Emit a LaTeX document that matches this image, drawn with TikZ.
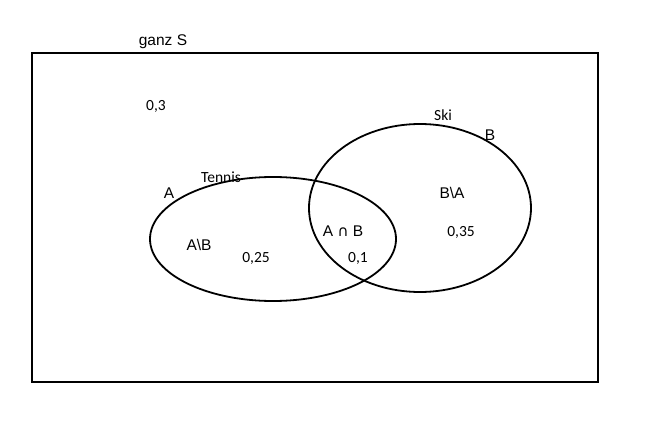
\documentclass[tikz,border=0pt]{standalone}
\usepackage{fontspec}
\setmainfont{Liberation Sans}
\newfontfamily\calib{Carlito}
\newfontfamily\dejav{DejaVu Sans}
\begin{document}
\begin{tikzpicture}[x=1pt,y=-1pt,
  shape line/.style={line width=1.8pt},
  arial/.style={font=\fontsize{15.5}{16}\selectfont, inner sep=0pt},
  calibri/.style={font=\calib\fontsize{15.5}{16}\selectfont, inner sep=0pt}]
\useasboundingbox (0,0) rectangle (646,428);
\draw[shape line] (32,53) rectangle (598,382);
\draw[shape line] (273,239) ellipse [x radius=123, y radius=62];
\draw[shape line] (420,208) ellipse [x radius=111, y radius=84];
\node[arial] (ganz) at (163,42) {ganz S};
\node[calibri] (p3) at (156,106) {0,3};
\node[calibri] (tennis) at (221,177) {Tennis};
\node[arial] (a) at (169,193) {A};
\node[arial] (amb) at (199,245) {A\textbackslash B};
\node[calibri] (p25) at (256,258) {0,25};
\node[arial] (anb) at (343,231) {A {\dejav\fontsize{15}{16}\selectfont ∩} B};
\node[calibri] (p1) at (358,258) {0,1};
\node[calibri] (ski) at (443,115) {Ski};
\node[arial] (b) at (490,135) {B};
\node[arial] (bma) at (452,193) {B\textbackslash A};
\node[calibri] (p35) at (461,232) {0,35};
\end{tikzpicture}
\end{document}
